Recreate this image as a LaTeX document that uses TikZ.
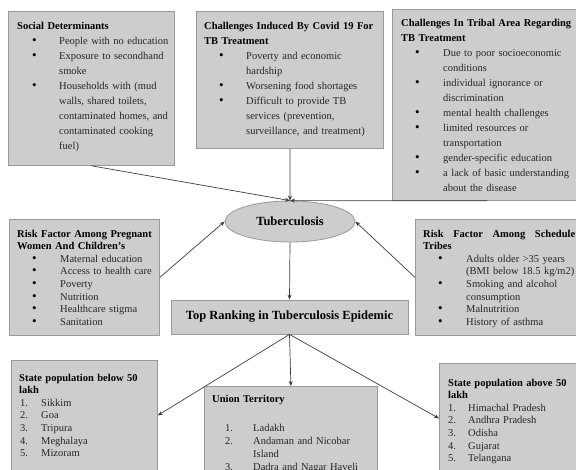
\documentclass[tikz,border=0pt]{standalone}
\usepackage{fontspec}
\setmainfont{Liberation Serif}
\usetikzlibrary{arrows.meta, positioning, shapes.geometric, calc}
\definecolor{boxgray}{HTML}{CDCDCD}
\definecolor{edgegray}{HTML}{999999}
\definecolor{linegray}{HTML}{3C3C3C}
\newlength{\BulX}
\newlength{\TxtX}
\newcommand{\Head}[1]{{\color{black}\bfseries #1}}
\newcommand{\Dot}{{\color{black}\fontsize{13}{13}\selectfont\textbullet}}
\newcommand{\Bul}[1]{\par\hangindent=\TxtX\hangafter=1\noindent\hspace*{\BulX}\makebox[\dimexpr\TxtX-\BulX\relax][l]{\Dot}#1}
\newcommand{\Num}[2]{\par\hangindent=\TxtX\hangafter=1\noindent\hspace*{\BulX}\makebox[\dimexpr\TxtX-\BulX\relax][l]{#1.}#2}
\tikzset{
    infobox/.style={draw=edgegray, fill=boxgray, line width=0.8pt, anchor=north west, inner sep=0pt},
    boxtext/.style={anchor=base west, inner sep=0pt, text=black!85,
      font=\fontsize{10.5}{15}\selectfont, execute at begin node=\raggedright},
    tight/.style={font=\fontsize{10.5}{12.6}\selectfont},
    marks/.style 2 args={/utils/exec={\setlength{\BulX}{#1}\setlength{\TxtX}{#2}}},
    link/.style={->, draw=linegray, line width=0.7pt},
    >={Stealth[length=5pt, width=4pt]},
}

\begin{document}
\begin{tikzpicture}[x=1pt, y=-1pt]
    \useasboundingbox (0,0) rectangle (576,469);
    \clip (0,0) rectangle (576,469);

    \node[infobox, minimum width=166pt, minimum height=154pt] (social) at (8,11) {};
    \node[boxtext, text width=155pt, marks={15pt}{42pt}] (social-t) at ($(social.north west)+(9,18)$)
      {\Head{Social Determinants}
       \Bul{People with no education}
       \Bul{Exposure to secondhand\newline smoke}
       \Bul{Households with (mud\newline walls, shared toilets,\newline contaminated homes, and\newline contaminated cooking\newline fuel)}\par};

    \node[infobox, minimum width=187pt, minimum height=137pt] (covid) at (196,11) {};
    \node[boxtext, text width=175pt, marks={15pt}{42pt}] (covid-t) at ($(covid.north west)+(8,18)$)
      {\Head{Challenges Induced By Covid 19 For\newline TB Treatment}
       \Bul{Poverty and economic\newline hardship}
       \Bul{Worsening food shortages}
       \Bul{Difficult to provide TB\newline services (prevention,\newline surveillance, and treatment)}\par};

    \node[infobox, minimum width=190pt, minimum height=191pt] (tribal) at (392,9) {};
    \node[boxtext, text width=180pt, marks={14pt}{42pt}] (tribal-t) at ($(tribal.north west)+(9,17)$)
      {\Head{Challenges In Tribal Area Regarding\newline TB Treatment}
       \Bul{Due to poor socioeconomic\newline conditions}
       \Bul{individual ignorance or\newline discrimination}
       \Bul{mental health challenges}
       \Bul{limited resources or\newline transportation}
       \Bul{gender-specific education}
       \Bul{a lack of basic understanding\newline about the disease}\par};

    \node[ellipse, draw=edgegray, fill=boxgray, line width=0.8pt, minimum width=130pt, minimum height=41pt,
      inner sep=0pt, font=\bfseries\fontsize{12.5}{14}\selectfont] (tb) at (290,221.5) {Tuberculosis};

    \node[infobox, minimum width=150pt, minimum height=116pt] (preg) at (9,219) {};
    \node[boxtext, tight, text width=140pt, marks={15pt}{43pt}] (preg-t) at ($(preg.north west)+(8,18)$)
      {\Head{Risk Factor Among Pregnant\newline Women And Children’s}
       \Bul{Maternal education}
       \Bul{Access to health care}
       \Bul{Poverty}
       \Bul{Nutrition}
       \Bul{Healthcare stigma}
       \Bul{Sanitation}\par};

    \node[infobox, minimum width=167pt, minimum height=116pt] (tribes) at (415,219) {};
    \node[boxtext, tight, text width=158pt, marks={15pt}{43pt}] (tribes-t) at ($(tribes.north west)+(8,18)$)
      {\Head{\makebox[152pt]{Risk\hfill Factor\hfill Among\hfill Schedule}\newline Tribes}
       \Bul{Adults older >35 years\newline (BMI below 18.5 kg/m2)}
       \Bul{Smoking and alcohol\newline consumption}
       \Bul{Malnutrition}
       \Bul{History of asthma}\par};

    \node[infobox, anchor=center, minimum width=237pt, minimum height=34pt,
      font=\bfseries\fontsize{12.5}{14}\selectfont] (rank) at (289.5,317) {Top Ranking in Tuberculosis Epidemic};

    \node[infobox, minimum width=146pt, minimum height=110pt] (below50) at (11,360) {};
    \node[boxtext, tight, text width=134pt, marks={1pt}{22pt}] (below50-t) at ($(below50.north west)+(8,21)$)
      {\Head{State population below 50\newline lakh}
       \Num{1}{Sikkim}
       \Num{2}{Goa}
       \Num{3}{Tripura}
       \Num{4}{Meghalaya}
       \Num{5}{Mizoram}\par};

    \node[infobox, minimum width=173pt, minimum height=100pt] (union) at (204,386) {};
    \node[boxtext, text width=162pt, font=\fontsize{10.5}{13}\selectfont, marks={13pt}{41pt}] (union-t)
      at ($(union.north west)+(8,16)$)
      {\Head{Union Territory}\par\vspace{16pt}
       \Num{1}{Ladakh}
       \Num{2}{Andaman and Nicobar\newline Island}
       \Num{3}{Dadra and Nagar Haveli}\par};

    \node[infobox, minimum width=143pt, minimum height=110pt] (above50) at (439,363) {};
    \node[boxtext, tight, text width=132pt, marks={0pt}{20pt}] (above50-t) at ($(above50.north west)+(9,23)$)
      {\Head{State population above 50\newline lakh}
       \Num{1}{Himachal Pradesh}
       \Num{2}{Andhra Pradesh}
       \Num{3}{Odisha}
       \Num{4}{Gujarat}
       \Num{5}{Telangana}\par};

    \draw (social.south) edge[link] (tb.north);
    \draw (covid.south) edge[link] (tb.north);
    \draw (tribal.south) edge[link] (tb.north);
    \draw (preg.east) edge[link] (tb.west);
    \draw (tribes.west) edge[link] (tb.east);
    \draw (tb.south) edge[link] (rank.north);
    \draw (rank.south) edge[link] (below50.east);
    \draw (rank.south) edge[link] (union.north);
    \draw (rank.south) edge[link] (above50.west);
\end{tikzpicture}
\end{document}
